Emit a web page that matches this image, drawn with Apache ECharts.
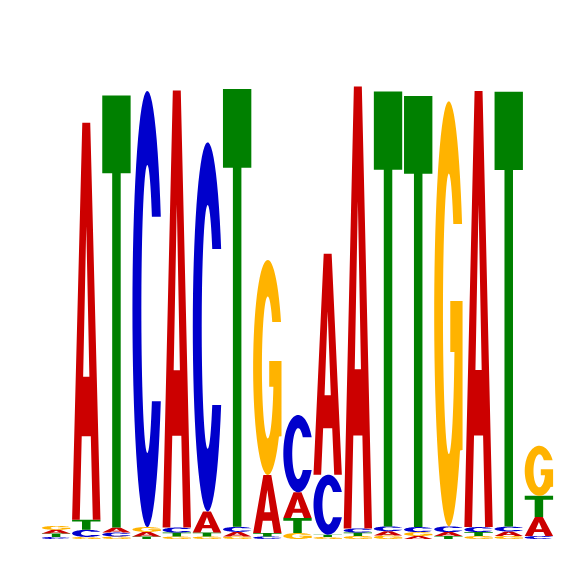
<!DOCTYPE html>
<html>
<head>
<meta charset="utf-8">
<script src="https://cdn.jsdelivr.net/npm/echarts@6/dist/echarts.min.js"></script>
<style>
html, body { margin: 0; padding: 0; background: #fff; }
#main { width: 566px; height: 566px; }
</style>
</head>
<body>
<div id="main"></div>
<script>
// positions of the motif
var positions = ['1','2','3','4','5','6','7','8','9','10','11','12','13','14','15','16','17'];
// letter heights (bits) per position
var heightA = [0.016, 1.730, 0.022, 0.020, 1.904, 0.092, 0.020, 0.253, 0.113, 0.963, 1.926, 0.019, 0.013, 0.017, 1.900, 0.020, 0.083];
var heightC = [0.009, 0.031, 0.017, 1.900, 0.022, 1.608, 0.022, 0.011, 0.336, 0.261, 0.018, 0.021, 0.022, 0.025, 0.022, 0.021, 0.013];
var heightG = [0.017, 0.009, 0.011, 0.021, 0.011, 0.011, 0.011, 0.937, 0.026, 0.009, 0.013, 0.015, 0.017, 1.852, 0.013, 0.013, 0.218];
var heightT = [0.015, 0.044, 1.882, 0.011, 0.017, 0.017, 1.908, 0.015, 0.065, 0.010, 0.015, 1.895, 1.878, 0.013, 0.017, 1.895, 0.092];

var colors = { A: '#CC0000', C: '#0000CC', G: '#FFB300', T: '#008000' };

// glyph outlines in a 100x100 box
function arc(cx, cy, rx, ry, a0, a1, n) {
	var pts = [];
	for (var k = 0; k <= n; k++) {
		var a = (a0 + (a1 - a0) * k / n) * Math.PI / 180;
		pts.push([cx + rx * Math.cos(a), cy - ry * Math.sin(a)]);
	}
	return pts;
}
function toPath(pts) {
	var s = '';
	for (var k = 0; k < pts.length; k++) {
		s += (k == 0 ? 'M' : 'L') + pts[k][0].toFixed(2) + ',' + pts[k][1].toFixed(2);
	}
	return s + 'Z';
}
var glyphA = 'M0,100L36,0L64,0L100,100L73,100L66,79L34,79L27,100Z M39,64L61,64L50,26Z';
var glyphT = 'M0,0L100,0L100,18L65,18L65,100L35,100L35,18L0,18Z';
var glyphC = toPath(arc(50, 50, 50, 50, 25, 335, 60).concat(arc(50, 50, 20, 33, 320.2, 39.8, 60)));
var glyphG = toPath(arc(50, 50, 50, 50, 25, 320, 60)
	.concat([[97, 82], [97, 47], [55, 47], [55, 59], [69.3, 59]])
	.concat(arc(50, 50, 20, 33, 344, 39.8, 60)));
var glyphs = { A: glyphA, C: glyphC, G: glyphG, T: glyphT };

var myChart = echarts.init(document.getElementById('main'));

function renderItem(params, api) {
	var i = api.value(0);
	var base = api.coord([i, 0]);
	var w = api.size([1, 0])[0] * 0.94;
	var col = [
		{ l: 'A', h: heightA[i] },
		{ l: 'C', h: heightC[i] },
		{ l: 'G', h: heightG[i] },
		{ l: 'T', h: heightT[i] }
	];
	//smallest at the bottom
	col.sort(function (a, b) { return a.h - b.h; });
	var children = [];
	var cum = 0;
	for (var k = 0; k < col.length; k++) {
		var y0 = api.coord([i, cum])[1];
		var y1 = api.coord([i, cum + col[k].h])[1];
		cum += col[k].h;
		children.push({
			type : 'path',
			shape : {
				pathData : glyphs[col[k].l],
				x : base[0] - w / 2,
				y : y1,
				width : w,
				height : Math.max(y0 - y1, 0.5),
				layout : 'cover'
			},
			style : { fill : colors[col[k].l] }
		});
	}
	return { type : 'group', children : children };
}

var seriesData = [];
for (var i = 0; i < positions.length; i++) {
	seriesData.push([i]);
}

option = {
	animation : false,
	grid : {
		left : 41,
		right : 12,
		top : 80,
		bottom : 27
	},
	xAxis : {
		type : 'category',
		data : positions,
		show : false
	},
	yAxis : {
		type : 'value',
		min : 0,
		max : 2,
		show : false
	},
	series : [
		{
			type : 'custom',
			renderItem : renderItem,
			clip : false,
			data : seriesData
		}
	]
};
myChart.setOption(option);
</script>
</body>
</html>
